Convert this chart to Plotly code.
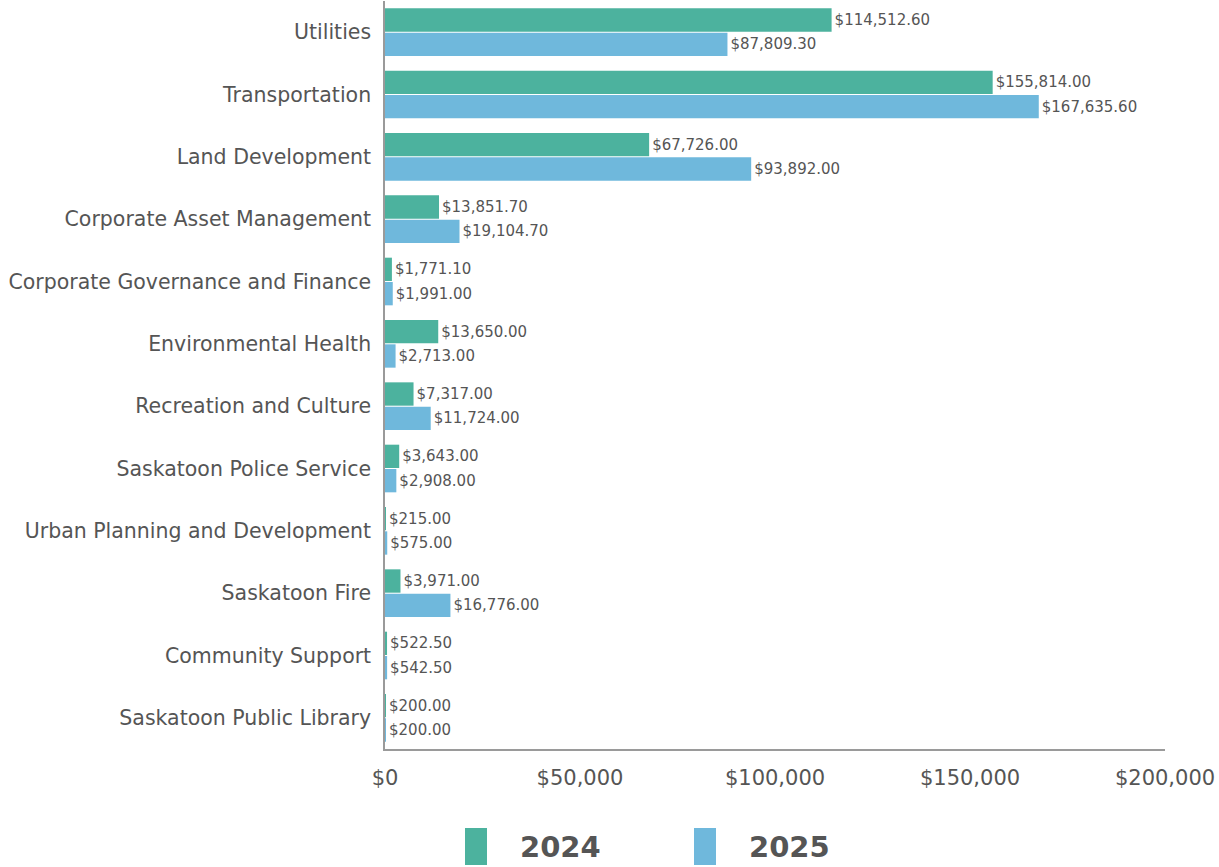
import plotly.graph_objects as go

categories = ["Utilities", "Transportation", "Land Development", "Corporate Asset Management",
              "Corporate Governance and Finance", "Environmental Health", "Recreation and Culture",
              "Saskatoon Police Service", "Urban Planning and Development", "Saskatoon Fire",
              "Community Support", "Saskatoon Public Library"]
values_2024 = [114512.60, 155814.00, 67726.00, 13851.70, 1771.10, 13650.00, 7317.00,
               3643.00, 215.00, 3971.00, 522.50, 200.00]
values_2025 = [87809.30, 167635.60, 93892.00, 19104.70, 1991.00, 2713.00, 11724.00,
               2908.00, 575.00, 16776.00, 542.50, 200.00]
series_names = ["2024", "2025"]
colors = ["#4CB29E", "#6FB8DC"]
tick_vals = [0, 50000, 100000, 150000, 200000]
tick_text = ["$0", "$50,000", "$100,000", "$150,000", "$200,000"]

FONT = "DejaVu Sans"
GREY = "#555555"

fig = go.Figure()
for name, vals, col in zip(series_names, [values_2024, values_2025], colors):
    fig.add_trace(go.Bar(
        y=categories, x=vals, name=name, orientation="h",
        marker=dict(color=col, line=dict(width=0)),
        texttemplate="$%{x:,.2f}", textposition="outside",
        textfont=dict(family=FONT, size=15, color=GREY),
        cliponaxis=False, showlegend=False,
    ))

fig.update_layout(
    width=1219, height=867,
    margin=dict(l=385, r=54, t=1, b=118),
    barmode="group", bargap=0.22, bargroupgap=0.04,
    plot_bgcolor="white", paper_bgcolor="white",
    font=dict(family=FONT, color=GREY),
    xaxis=dict(range=[0, 200000], tickvals=tick_vals, ticktext=tick_text,
               showgrid=False, zeroline=False, showline=True, linecolor="#9a9a9a", linewidth=1.5,
               tickfont=dict(family=FONT, size=21, color=GREY), ticks="", ticklabelstandoff=9),
    yaxis=dict(autorange="reversed", showgrid=False, zeroline=False, showline=True,
               linecolor="#9a9a9a", linewidth=1.5, ticks="",
               tickfont=dict(family=FONT, size=20.5, color=GREY), ticklabelstandoff=8),
)

# custom legend (large swatches)
legend_items = [(465, 487, 518, series_names[0], colors[0]), (694, 716, 747, series_names[1], colors[1])]
for x0, x1, tx, name, col in legend_items:
    fig.add_shape(type="rect", xref="paper", yref="paper",
                  x0=(x0 - 385) / 780, x1=(x1 - 385) / 780,
                  y0=(749 - 865) / 748, y1=(749 - 828) / 748,
                  fillcolor=col, line=dict(width=0))
    fig.add_annotation(xref="paper", yref="paper", x=(tx - 385) / 780, y=(749 - 847) / 748,
                       text="<b>" + name + "</b>", showarrow=False, xanchor="left", yanchor="middle",
                       font=dict(family=FONT, size=29, color=GREY))

fig.write_html("out.html")
